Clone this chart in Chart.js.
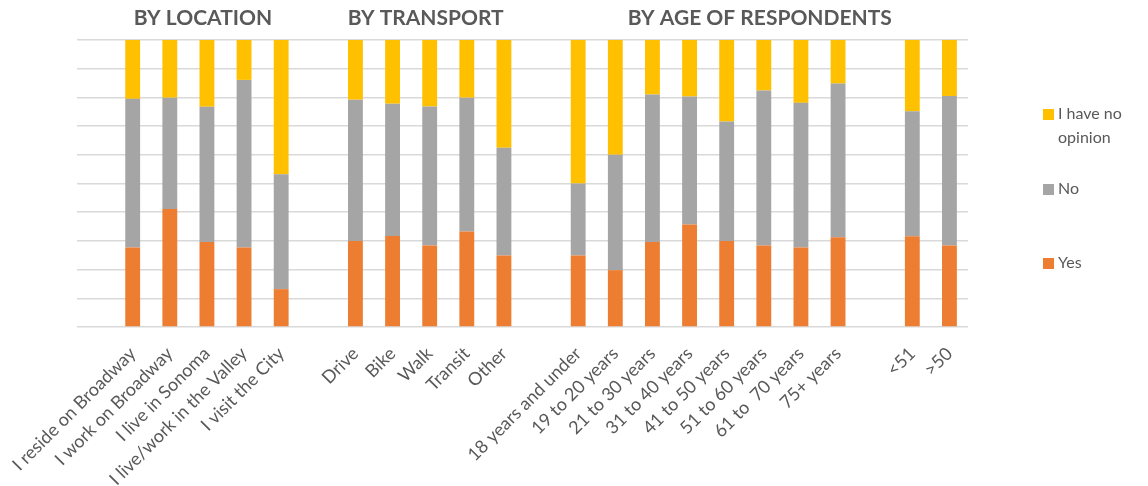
<!DOCTYPE html>
<html>
<head>
<meta charset="utf-8">
<script src="https://cdn.jsdelivr.net/npm/chart.js@4/dist/chart.umd.min.js"></script>
<style>
  html, body { margin: 0; padding: 0; background: #fff; }
  #wrap { width: 1148px; height: 486px; }
</style>
</head>
<body>
<div id="wrap"><canvas id="chart"></canvas></div>
<script>
// groups of categories (a blank slot sits before each group)
const locationLabels = ["I reside on Broadway", "I work on Broadway", "I live in Sonoma", "I live/work in the Valley", "I visit the City"];
const transportLabels = ["Drive", "Bike", "Walk", "Transit", "Other"];
const ageLabels = ["18 years and under", "19 to 20 years", "21 to 30 years", "31 to 40 years", "41 to 50 years", "51 to 60 years", "61 to  70 years", "75+ years"];
const splitLabels = ["<51", ">50"];

// percentages
const yesLocation = [27.7, 41.1, 29.6, 27.7, 13.2];
const noLocation = [51.8, 38.8, 47.1, 58.4, 40.0];
const noOpinionLocation = [20.5, 20.1, 23.3, 13.9, 46.8];

const yesTransport = [30.0, 31.7, 28.4, 33.3, 24.9];
const noTransport = [49.2, 46.1, 48.4, 46.6, 37.6];
const noOpinionTransport = [20.8, 22.2, 23.2, 20.1, 37.5];

const yesAge = [24.9, 19.8, 29.6, 35.7, 30.0, 28.4, 27.7, 31.3];
const noAge = [25.1, 40.2, 51.4, 44.6, 41.6, 54.0, 50.4, 53.5];
const noOpinionAge = [50.0, 40.0, 19.0, 19.7, 28.4, 17.6, 21.9, 15.2];

const yesSplit = [31.6, 28.4];
const noSplit = [43.6, 52.1];
const noOpinionSplit = [24.8, 19.5];

const headers = ["BY LOCATION", "BY TRANSPORT", "BY AGE OF RESPONDENTS"];

// join groups with an empty slot in front of each
function joinGroups(groups, blank) {
  let out = [];
  groups.forEach(g => { out.push(blank); out = out.concat(g); });
  return out;
}

const labels = joinGroups([locationLabels, transportLabels, ageLabels, splitLabels], "");
const yesData = joinGroups([yesLocation, yesTransport, yesAge, yesSplit], null);
const noData = joinGroups([noLocation, noTransport, noAge, noSplit], null);
const noOpinionData = joinGroups([noOpinionLocation, noOpinionTransport, noOpinionAge, noOpinionSplit], null);

// index ranges for the headers (age header spans the last two groups)
const s1 = 1, e1 = s1 + locationLabels.length - 1;
const s2 = e1 + 2, e2 = s2 + transportLabels.length - 1;
const s3 = e2 + 2, e3 = s3 + ageLabels.length + splitLabels.length;
const headerSpans = [[s1, e1], [s2, e2], [s3, e3]];

const textColor = "#595959";

const headerPlugin = {
  id: "headers",
  afterDraw(chart) {
    const ctx = chart.ctx, x = chart.scales.x, area = chart.chartArea;
    ctx.save();
    ctx.fillStyle = textColor;
    ctx.font = "bold 21px Lato";
    ctx.textAlign = "center";
    ctx.textBaseline = "middle";
    headers.forEach((h, i) => {
      const [a, b] = headerSpans[i];
      const cx = (x.getPixelForValue(a) + x.getPixelForValue(b)) / 2;
      ctx.fillText(h, cx - 4, area.top - 22);
    });
    ctx.restore();
  }
};

// legend drawn by hand to get Excel-like spacing on the right
const legendPlugin = {
  id: "sideLegend",
  afterDraw(chart) {
    const ctx = chart.ctx, area = chart.chartArea;
    const items = chart.data.datasets.slice().reverse();
    const bx = area.right + 75;
    const rows = [area.top + 74, area.top + 149, area.top + 223];
    ctx.save();
    ctx.font = "16px Lato";
    ctx.textBaseline = "middle";
    ctx.textAlign = "left";
    items.forEach((ds, i) => {
      const y = rows[i];
      ctx.fillStyle = ds.backgroundColor;
      ctx.fillRect(bx, y - 5, 11, 11);
      ctx.fillStyle = textColor;
      const lines = Array.isArray(ds.legendLines) ? ds.legendLines : [ds.label];
      lines.forEach((ln, k) => ctx.fillText(ln, bx + 15, y + k * 24));
    });
    ctx.restore();
  }
};

new Chart(document.getElementById("chart"), {
  type: "bar",
  data: {
    labels: labels,
    datasets: [
      { label: "Yes", data: yesData, backgroundColor: "#ED7D31" },
      { label: "No", data: noData, backgroundColor: "#A5A5A5" },
      { label: "I have no opinion", legendLines: ["I have no", "opinion"], data: noOpinionData, backgroundColor: "#FFC000" }
    ]
  },
  options: {
    responsive: true,
    maintainAspectRatio: false,
    animation: false,
    layout: { padding: { left: 77, right: 180, top: 40, bottom: 0 } },
    datasets: { bar: { barPercentage: 0.4, categoryPercentage: 1.0, borderWidth: 0 } },
    plugins: {
      legend: { display: false },
      tooltip: { enabled: false },
      title: { display: false }
    },
    scales: {
      x: {
        stacked: true,
        grid: { display: false },
        border: { display: false },
        ticks: {
          autoSkip: false,
          maxRotation: 45,
          minRotation: 45,
          color: textColor,
          font: { family: "Lato", size: 18 },
          padding: 8
        },
        afterFit(scale) { scale.height = 159; }
      },
      y: {
        stacked: true,
        min: 0,
        max: 100,
        ticks: { display: false, stepSize: 10 },
        grid: { color: "#d9d9d9", lineWidth: 1.5, drawTicks: false },
        border: { display: false },
        afterFit(scale) { scale.width = 0; }
      }
    }
  },
  plugins: [headerPlugin, legendPlugin]
});
</script>
</body>
</html>
